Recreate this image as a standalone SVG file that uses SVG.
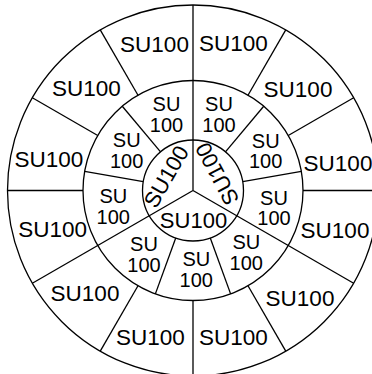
<svg xmlns="http://www.w3.org/2000/svg" width="372" height="374" viewBox="0 0 372 374">
<style>
.c{fill:none;stroke:#000;stroke-width:1.3}
.l{stroke:#000;stroke-width:1.3;fill:none}
text{font-family:"Liberation Sans",Arial,sans-serif;fill:#000;text-anchor:middle}
.o{font-size:22.5px}
.m{font-size:20px}
.i{font-size:22px}
</style>
<rect width="372" height="374" fill="#fff"/>
<g id="rings">
<circle class="c" cx="193" cy="190.5" r="185.5"/>
<circle class="c" cx="193" cy="190.5" r="110"/>
<circle class="c" cx="193" cy="190.5" r="50.5"/>
</g>
<g id="dividers">
<line class="l" x1="193" y1="190.5" x2="193" y2="5"/>
<line class="l" x1="193" y1="190.5" x2="353.65" y2="283.25"/>
<line class="l" x1="193" y1="190.5" x2="32.35" y2="283.25"/>
<line class="l" x1="303" y1="190.5" x2="378.5" y2="190.5"/>
<line class="l" x1="288.26" y1="135.5" x2="353.65" y2="97.75"/>
<line class="l" x1="248" y1="95.24" x2="285.75" y2="29.85"/>
<line class="l" x1="138" y1="95.24" x2="100.25" y2="29.85"/>
<line class="l" x1="97.74" y1="135.5" x2="32.35" y2="97.75"/>
<line class="l" x1="83" y1="190.5" x2="7.5" y2="190.5"/>
<line class="l" x1="248" y1="285.76" x2="285.75" y2="351.15"/>
<line class="l" x1="193" y1="300.5" x2="193" y2="376"/>
<line class="l" x1="138" y1="285.76" x2="100.25" y2="351.15"/>
<line class="l" x1="225.46" y1="151.82" x2="263.71" y2="106.24"/>
<line class="l" x1="242.73" y1="181.73" x2="301.33" y2="171.4"/>
<line class="l" x1="210.27" y1="237.96" x2="230.62" y2="293.87"/>
<line class="l" x1="175.73" y1="237.96" x2="155.38" y2="293.87"/>
<line class="l" x1="143.27" y1="181.73" x2="84.67" y2="171.4"/>
<line class="l" x1="160.54" y1="151.82" x2="122.29" y2="106.24"/>
</g>
<g id="outer">
<text class="o" x="154.5" y="52">SU100</text>
<text class="o" x="233.3" y="51">SU100</text>
<text class="o" x="298" y="97">SU100</text>
<text class="o" x="338" y="171">SU100</text>
<text class="o" x="335" y="237.5">SU100</text>
<text class="o" x="300" y="306">SU100</text>
<text class="o" x="233.3" y="344.5">SU100</text>
<text class="o" x="150.3" y="344.5">SU100</text>
<text class="o" x="85" y="301">SU100</text>
<text class="o" x="52.7" y="237">SU100</text>
<text class="o" x="48.8" y="167">SU100</text>
<text class="o" x="86.3" y="95.5">SU100</text>
</g>
<g id="middle">
<text class="m" x="166.5" y="111"><tspan x="166.5">SU</tspan><tspan x="166.5" dy="20.5">100</tspan></text>
<text class="m" x="219" y="111"><tspan x="219">SU</tspan><tspan x="219" dy="20.5">100</tspan></text>
<text class="m" x="265.7" y="147.5"><tspan x="265.7">SU</tspan><tspan x="265.7" dy="20.5">100</tspan></text>
<text class="m" x="274" y="204.5"><tspan x="274">SU</tspan><tspan x="274" dy="20.5">100</tspan></text>
<text class="m" x="246.3" y="249"><tspan x="246.3">SU</tspan><tspan x="246.3" dy="20.5">100</tspan></text>
<text class="m" x="196.3" y="266"><tspan x="196.3">SU</tspan><tspan x="196.3" dy="20.5">100</tspan></text>
<text class="m" x="144" y="251"><tspan x="144">SU</tspan><tspan x="144" dy="20.5">100</tspan></text>
<text class="m" x="113.3" y="203"><tspan x="113.3">SU</tspan><tspan x="113.3" dy="20.5">100</tspan></text>
<text class="m" x="126.7" y="147"><tspan x="126.7">SU</tspan><tspan x="126.7" dy="20.5">100</tspan></text>
</g>
<g id="inner">
<text class="i" transform="translate(166,176.5) rotate(-60)" x="0" y="7.8">SU100</text>
<text class="i" transform="translate(217,174) rotate(-118)" x="0" y="7.8">SU100</text>
<text class="i" x="193.5" y="228.3">SU100</text>
</g>
</svg>
